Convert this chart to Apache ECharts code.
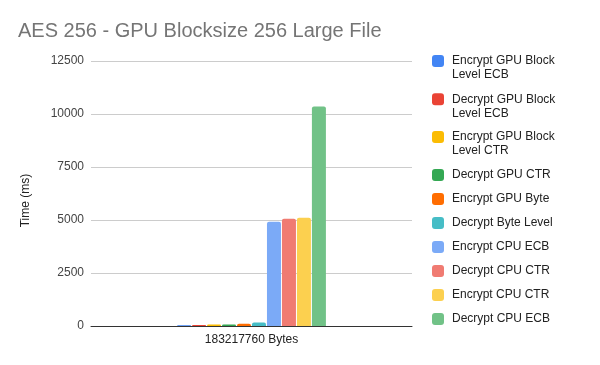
<!DOCTYPE html>
<html><head><meta charset="utf-8">
<script src="https://cdn.jsdelivr.net/npm/echarts@6/dist/echarts.min.js"></script>
<style>html,body{margin:0;padding:0;background:#fff}#c{width:600px;height:365px}</style>
</head><body><div id="c"></div>
<script>
var categories = ['183217760 Bytes'];
var seriesNames = ['Encrypt GPU Block Level ECB','Decrypt GPU Block Level ECB','Encrypt GPU Block Level CTR','Decrypt GPU CTR','Encrypt GPU Byte','Decrypt Byte Level','Encrypt CPU ECB','Decrypt CPU CTR','Encrypt CPU CTR','Decrypt CPU ECB'];
var legendLabels = ['Encrypt GPU Block\nLevel ECB','Decrypt GPU Block\nLevel ECB','Encrypt GPU Block\nLevel CTR','Decrypt GPU CTR','Encrypt GPU Byte','Decrypt Byte Level','Encrypt CPU ECB','Decrypt CPU CTR','Encrypt CPU CTR','Decrypt CPU ECB'];
var values = [40, 45, 65, 70, 110, 160, 4920, 5060, 5110, 10350];
var colors = ['#4285F4','#EA4335','#FBBC04','#34A853','#FF6D01','#46BDC6','#7BAAF7','#F07B72','#FCD04F','#71C287'];
var yTicks = [0, 2500, 5000, 7500, 10000, 12500];

var FONT = 'Liberation Sans, Arial, sans-serif';
var iconTops = [55, 93.3, 131, 169, 193, 217, 241, 265, 289, 313];

var series = seriesNames.map(function(n, i){
  return {
    name: n, type: 'bar', data: [values[i]],
    barWidth: 14, barGap: '7%',
    itemStyle: {color: colors[i], borderRadius: [2,2,0,0]}
  };
});

var legends = seriesNames.map(function(n, i){
  var two = legendLabels[i].indexOf('\n') >= 0;
  return {
    left: 432, top: two ? iconTops[i] - 15 : iconTops[i] - 1,
    padding: 0, itemWidth: 12, itemHeight: 12, icon: 'roundRect',
    orient: 'vertical', selectedMode: false,
    data: [{name: n, itemStyle: {color: colors[i]}}],
    formatter: function(){ return two ? '\n' + legendLabels[i] : legendLabels[i]; },
    textStyle: {color: '#222', fontSize: 12, fontFamily: FONT, lineHeight: 14,
      padding: [0, 0, 0, 3]}
  };
});

var chart = echarts.init(document.getElementById('c'), null, {renderer: 'canvas'});
chart.setOption({
  animation: false,
  backgroundColor: '#fff',
  title: {text: 'AES 256 - GPU Blocksize 256 Large File', left: 18, top: 19, padding: 0,
    textStyle: {color: '#757575', fontSize: 20, fontWeight: 'normal', fontFamily: FONT, lineHeight: 24}},
  legend: legends,
  grid: {left: 91, right: 188, top: 61, bottom: 39, containLabel: false},
  xAxis: {type: 'category', data: categories,
    axisTick: {show: false},
    axisLine: {lineStyle: {color: '#333', width: 1}},
    axisLabel: {color: '#222', fontSize: 12, fontFamily: FONT, margin: 8}},
  yAxis: {type: 'value', min: yTicks[0], max: yTicks[yTicks.length-1], interval: 2500,
    name: 'Time (ms)', nameLocation: 'middle', nameGap: 59,
    nameTextStyle: {color: '#222', fontSize: 12, fontFamily: FONT, padding: [0, 14, 0, 0]},
    axisLine: {show: false}, axisTick: {show: false},
    splitLine: {lineStyle: {color: '#ccc'}},
    axisLabel: {color: '#444', fontSize: 12, fontFamily: FONT, margin: 7,
      formatter: function(v){ return String(v); }}},
  series: series
});
</script></body></html>
